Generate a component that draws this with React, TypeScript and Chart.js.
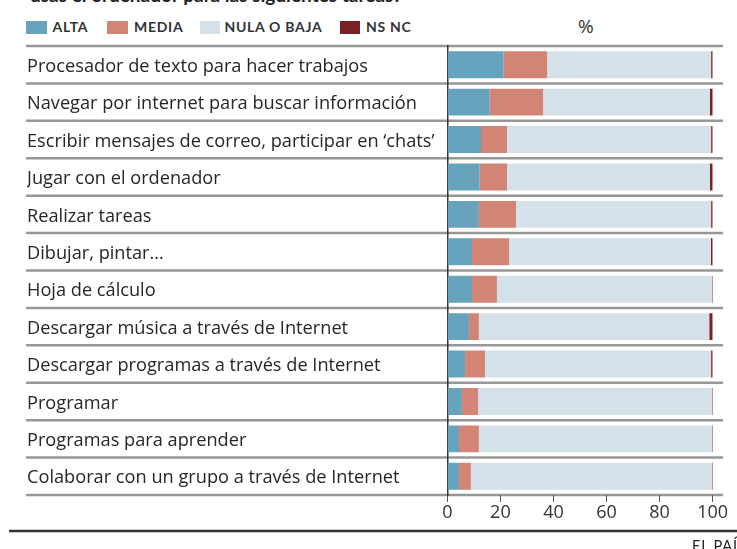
import React, { useEffect, useRef } from "react";
import { Chart, registerables } from "chart.js";

Chart.register(...registerables);

const categories = [
  "Procesador de texto para hacer trabajos",
  "Navegar por internet para buscar información",
  "Escribir mensajes de correo, participar en ‘chats’",
  "Jugar con el ordenador",
  "Realizar tareas",
  "Dibujar, pintar...",
  "Hoja de cálculo",
  "Descargar música a través de Internet",
  "Descargar programas a través de Internet",
  "Programar",
  "Programas para aprender",
  "Colaborar con un grupo a través de Internet",
];

const alta = [21.2, 16.0, 12.7, 12.2, 11.9, 9.3, 9.3, 8.2, 6.7, 5.5, 4.4, 4.4];
const media = [16.4, 20.1, 9.8, 10.3, 14.0, 14.0, 9.4, 3.7, 7.5, 6.1, 7.5, 4.5];
const nula = [61.8, 62.8, 76.9, 76.4, 73.5, 76.0, 81.0, 86.8, 85.2, 88.1, 87.8, 90.8];
const nsnc = [0.6, 1.1, 0.6, 1.1, 0.6, 0.7, 0.3, 1.3, 0.6, 0.3, 0.3, 0.3];

const xTicks = [0, 20, 40, 60, 80, 100];

const seriesNames = ["ALTA", "MEDIA", "NULA O BAJA", "NS NC"];
const seriesColors = ["#68a3be", "#d38575", "#d5e1e9", "#7a2124"];

const FONT = "'Open Sans', 'Noto Sans', sans-serif";
const LEG_FONT = "Lato, 'Noto Sans', sans-serif";

const linesPlugin = {
  id: "rowLines",
  beforeDraw(chart: any) {
    const { ctx, chartArea } = chart;
    const { top, bottom } = chartArea;
    const n = categories.length;
    const step = (bottom - top) / n;
    ctx.save();
    ctx.strokeStyle = "#979797";
    ctx.lineWidth = 2.5;
    for (let i = 0; i <= n; i++) {
      const y = top + i * step;
      ctx.beginPath();
      ctx.moveTo(26, y);
      ctx.lineTo(723, y);
      ctx.stroke();
    }
    ctx.strokeStyle = "#333";
    ctx.lineWidth = 2.5;
    ctx.beginPath();
    ctx.moveTo(9, 531);
    ctx.lineTo(737, 531);
    ctx.stroke();
    ctx.restore();
  },
};

export default function App() {
  const ref = useRef<HTMLCanvasElement>(null);

  useEffect(() => {
    if (!ref.current) return;
    const data = [alta, media, nula, nsnc];
    const chart = new Chart(ref.current, {
      type: "bar",
      data: {
        labels: categories,
        datasets: seriesNames.map((name, i) => ({
          label: name,
          data: data[i],
          backgroundColor: seriesColors[i],
          borderWidth: 0,
          barPercentage: 0.72,
          categoryPercentage: 1,
        })),
      },
      options: {
        indexAxis: "y",
        responsive: false,
        animation: false,
        layout: { padding: { left: 27, right: 24.3, top: 46, bottom: 0 } },
        plugins: {
          legend: { display: false },
          tooltip: { enabled: false },
        },
        scales: {
          x: {
            stacked: true,
            min: 0,
            max: 100,
            afterBuildTicks: (scale: any) => {
              scale.ticks = xTicks.map((v) => ({ value: v }));
            },
            afterFit: (scale: any) => {
              scale.height = 54;
            },
            ticks: {
              color: "#333",
              font: { family: FONT, size: 18 },
              padding: 0,
              maxRotation: 0,
            },
            grid: {
              drawOnChartArea: false,
              drawTicks: true,
              tickLength: 7,
              color: "#555",
              lineWidth: 1,
            },
            border: { display: false },
          },
          y: {
            stacked: true,
            afterFit: (scale: any) => {
              scale.width = 420.3;
            },
            ticks: {
              color: "#262626",
              font: { family: FONT, size: 18.2 },
              crossAlign: "far",
              padding: 0,
              labelOffset: 2,
              autoSkip: false,
            },
            grid: { display: false },
            border: { display: true, color: "#333", width: 1.5 },
          },
        },
      },
      plugins: [linesPlugin],
    } as any);
    return () => chart.destroy();
  }, []);

  const legendX = [
    { box: 26, text: 52.5 },
    { box: 107, text: 134 },
    { box: 199.5, text: 224.5 },
    { box: 339.5, text: 366 },
  ];

  return (
    <div style={{ position: "absolute", left: 0, top: 0, width: 737, height: 549, overflow: "hidden", background: "#fff" }}>
      <div
        style={{
          position: "absolute",
          left: 30,
          top: -15,
          fontFamily: LEG_FONT,
          fontWeight: 700,
          fontSize: 19,
          lineHeight: "19px",
          color: "#222",
          whiteSpace: "nowrap",
        }}
      >
        usas el ordenador para las siguientes tareas?
      </div>
      {seriesNames.map((name, i) => (
        <React.Fragment key={name}>
          <div
            style={{
              position: "absolute",
              left: legendX[i].box,
              top: 21,
              width: 20.5,
              height: 12.5,
              background: seriesColors[i],
            }}
          />
          <div
            style={{
              position: "absolute",
              left: legendX[i].text,
              top: 18,
              fontFamily: LEG_FONT,
              fontWeight: 700,
              fontSize: 14,
              lineHeight: "18px",
              letterSpacing: 0.7,
              color: "#333",
              whiteSpace: "nowrap",
            }}
          >
            {name}
          </div>
        </React.Fragment>
      ))}
      <div
        style={{
          position: "absolute",
          left: 578,
          top: 15,
          fontFamily: FONT,
          fontSize: 19,
          lineHeight: "22px",
          color: "#333",
        }}
      >
        %
      </div>
      <canvas ref={ref} width={737} height={549} style={{ position: "absolute", left: 0, top: 0 }} />
      <div
        style={{
          position: "absolute",
          left: 692,
          top: 537,
          fontFamily: LEG_FONT,
          fontSize: 14.5,
          lineHeight: "18px",
          letterSpacing: 0.8,
          color: "#222",
          whiteSpace: "nowrap",
        }}
      >
        EL PAÍS
      </div>
    </div>
  );
}
